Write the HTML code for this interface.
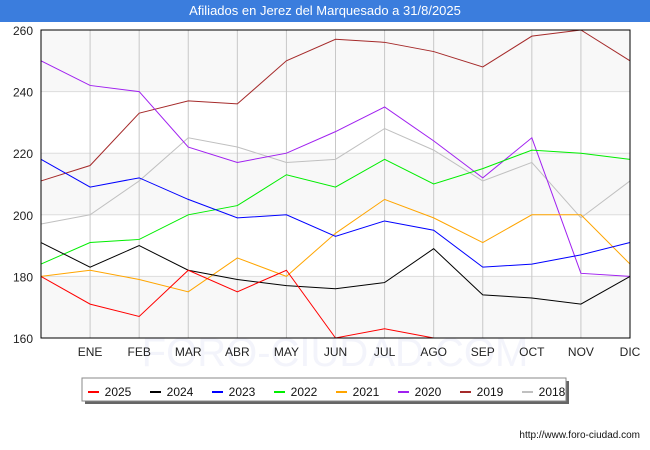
<!DOCTYPE html>
<html><head><meta charset="utf-8"><style>
body{margin:0;width:650px;height:450px;background:#fff;font-family:"Liberation Sans","DejaVu Sans",sans-serif;overflow:hidden;position:relative}
#title{position:absolute;left:0;top:0;width:650px;height:22px;background:#3b7ddd;color:#fff;font-size:13px;text-align:center;line-height:22px}
svg{position:absolute;left:0;top:0;font-family:"Liberation Sans","DejaVu Sans",sans-serif}
</style></head><body>
<div id="title">Afiliados en Jerez del Marquesado a 31/8/2025</div>
<svg id="chart" width="650" height="450"></svg>
<script>
const months=["","ENE","FEB","MAR","ABR","MAY","JUN","JUL","AGO","SEP","OCT","NOV","DIC"];
const yTicks=[160,180,200,220,240,260];
const years=["2025","2024","2023","2022","2021","2020","2019","2018"];
const colors=["#ff0000","#000000","#0000ff","#00ee00","#ffa500","#a020f0","#a52a2a","#c0c0c0"];
const s2025=[180,171,167,182,175,182,160,163,160];
const s2024=[191,183,190,182,179,177,176,178,189,174,173,171,180];
const s2023=[218,209,212,205,199,200,193,198,195,183,184,187,191];
const s2022=[184,191,192,200,203,213,209,218,210,215,221,220,218];
const s2021=[180,182,179,175,186,180,194,205,199,191,200,200,184];
const s2020=[250,242,240,222,217,220,227,235,224,212,225,181,180];
const s2019=[211,216,233,237,236,250,257,256,253,248,258,260,250];
const s2018=[197,200,211,225,222,217,218,228,221,211,217,199,211];
const series=[s2025,s2024,s2023,s2022,s2021,s2020,s2019,s2018];
const L=41,R=630,T=30,B=338;
const x=i=>L+i*(R-L)/12;
const y=v=>B-(v-160)*(B-T)/100;
const svg=document.getElementById('chart');
const NS="http://www.w3.org/2000/svg";
function mk(t,a,p){const e=document.createElementNS(NS,t);for(const k in a)e.setAttribute(k,a[k]);(p||svg).appendChild(e);return e;}
const wm=mk('text',{x:335,y:366,'text-anchor':'middle','font-size':40,fill:'#f3f4fb'});wm.textContent='FORO-CIUDAD.COM';


for(let i=0;i<5;i++){if(i%2==0){const r=mk('rect',{x:L,y:y(yTicks[5-i]),width:R-L,height:y(yTicks[4-i])-y(yTicks[5-i]),fill:'#f8f8f8'});

}}
yTicks.forEach(v=>{const g=mk('line',{x1:L,x2:R,y1:y(v),y2:y(v),stroke:'#ddd'});


const t=mk('text',{x:L-8,y:y(v)+5,'text-anchor':'end','font-size':12,fill:'#222'});t.textContent=v;

});
months.forEach((m,i)=>{if(i>0){const g=mk('line',{x1:x(i),x2:x(i),y1:T,y2:B,stroke:'#c8c8c8'});

}
const t=mk('text',{x:x(i),y:356,'text-anchor':'middle','font-size':12,fill:'#222'});t.textContent=m;

});
for(let k=series.length-1;k>=0;k--){const p=mk('polyline',{points:series[k].map((v,i)=>x(i)+','+y(v)).join(' '),fill:'none',stroke:colors[k],'stroke-width':1});

}
const fr=mk('rect',{x:L,y:T,width:R-L,height:B-T,fill:'none',stroke:'#000'});


const lg=mk('g',{});


mk('rect',{x:85,y:381,width:484,height:23,fill:'#666'},lg);
mk('rect',{x:82,y:378,width:484,height:23,fill:'#fff',stroke:'#888'},lg);
years.forEach((yr,k)=>{const lx=88+k*62;
const e=mk('g',{},lg);


mk('line',{x1:lx,x2:lx+11,y1:392,y2:392,stroke:colors[k],'stroke-width':2},e);
const t=mk('text',{x:lx+30,y:396,'text-anchor':'middle','font-size':12,fill:'#111'},e);t.textContent=yr;});
const u=mk('text',{x:640,y:438,'text-anchor':'end','font-size':10,fill:'#111'});u.textContent='http://www.foro-ciudad.com';


</script>
</body></html>
